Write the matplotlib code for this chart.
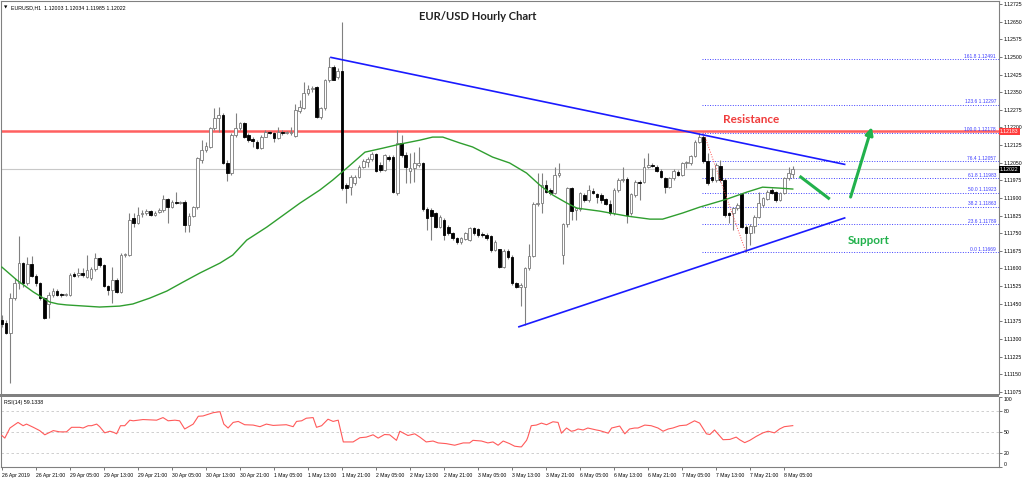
import numpy as np
import matplotlib.pyplot as plt
from matplotlib.patches import Rectangle

plt.rcParams['font.family'] = ['Liberation Sans', 'DejaVu Sans']

# EURUSD H1 candles, 26 Apr 2019 13:00 -> 8 May 2019
opens = [1.11381, 1.11370, 1.11327, 1.11476, 1.11540, 1.11624, 1.11537, 1.11621, 1.11568, 1.11537,
         1.11473, 1.11449, 1.11487, 1.11506, 1.11490, 1.11489, 1.11487, 1.11577, 1.11571, 1.11580,
         1.11565, 1.11558, 1.11597, 1.11645, 1.11614, 1.11526, 1.11509, 1.11551, 1.11502, 1.11657,
         1.11657, 1.11813, 1.11792, 1.11831, 1.11834, 1.11844, 1.11827, 1.11840, 1.11848, 1.11894,
         1.11860, 1.11884, 1.11880, 1.11884, 1.11783, 1.11823, 1.11860, 1.12062, 1.12104, 1.12118,
         1.12196, 1.12239, 1.12253, 1.12050, 1.12005, 1.12168, 1.12196, 1.12218, 1.12168, 1.12149,
         1.12140, 1.12114, 1.12161, 1.12179, 1.12175, 1.12154, 1.12182, 1.12178, 1.12175, 1.12164,
         1.12272, 1.12282, 1.12345, 1.12362, 1.12370, 1.12243, 1.12282, 1.12401, 1.12458, 1.12415,
         1.12441, 1.11955, 1.11948, 1.11962, 1.11990, 1.12033, 1.12054, 1.12064, 1.12087, 1.12040,
         1.12019, 1.12076, 1.12076, 1.11920, 1.12132, 1.12083, 1.12016, 1.12026, 1.12040, 1.12047,
         1.11851, 1.11848, 1.11834, 1.11778, 1.11806, 1.11778, 1.11749, 1.11728, 1.11714, 1.11725,
         1.11723, 1.11774, 1.11766, 1.11746, 1.11742, 1.11738, 1.11678, 1.11681, 1.11608, 1.11675,
         1.11650, 1.11537, 1.11523, 1.11523, 1.11601, 1.11653, 1.11874, 1.11877, 1.11955, 1.11934,
         1.11923, 1.11998, 1.11657, 1.11789, 1.11941, 1.11848, 1.11851, 1.11912, 1.11891, 1.11931,
         1.11917, 1.11912, 1.11894, 1.11874, 1.11834, 1.11934, 1.11976, 1.11980, 1.11834, 1.11912,
         1.11969, 1.11969, 1.12033, 1.12040, 1.12033, 1.12016, 1.11983, 1.11945, 1.11983, 1.12012,
         1.11998, 1.12047, 1.12047, 1.12079, 1.12140, 1.12161, 1.12056, 1.11990, 1.11976, 1.12036,
         1.11976, 1.11834, 1.11834, 1.11856, 1.11917, 1.11778, 1.11749, 1.11781, 1.11820, 1.11870,
         1.11895, 1.11934, 1.11927, 1.11891, 1.11923, 1.11983, 1.12003]
highs = [1.11402, 1.11381, 1.11495, 1.11558, 1.11738, 1.11628, 1.11650, 1.11653, 1.11577, 1.11544,
         1.11480, 1.11502, 1.11516, 1.11512, 1.11495, 1.11497, 1.11580, 1.11587, 1.11601, 1.11601,
         1.11657, 1.11608, 1.11667, 1.11650, 1.11621, 1.11530, 1.11608, 1.11558, 1.11664, 1.11667,
         1.11834, 1.11834, 1.11863, 1.11848, 1.11851, 1.11848, 1.11846, 1.11856, 1.11912, 1.11898,
         1.11891, 1.11927, 1.11888, 1.11891, 1.11834, 1.11865, 1.12076, 1.12147, 1.12140, 1.12204,
         1.12282, 1.12289, 1.12260, 1.12062, 1.12175, 1.12260, 1.12225, 1.12225, 1.12175, 1.12158,
         1.12147, 1.12168, 1.12189, 1.12186, 1.12182, 1.12201, 1.12189, 1.12186, 1.12204, 1.12300,
         1.12317, 1.12394, 1.12380, 1.12376, 1.12376, 1.12289, 1.12408, 1.12498, 1.12465, 1.12451,
         1.12650, 1.11965, 1.11998, 1.11998, 1.12040, 1.12064, 1.12076, 1.12097, 1.12093, 1.12054,
         1.12087, 1.12083, 1.12083, 1.12189, 1.12168, 1.12097, 1.12090, 1.12097, 1.12118, 1.12054,
         1.11863, 1.11856, 1.11841, 1.11827, 1.11813, 1.11785, 1.11756, 1.11735, 1.11735, 1.11756,
         1.11778, 1.11778, 1.11771, 1.11756, 1.11749, 1.11742, 1.11721, 1.11685, 1.11681, 1.11681,
         1.11657, 1.11544, 1.11537, 1.11608, 1.11706, 1.11884, 1.12005, 1.12005, 1.11976, 1.11941,
         1.12033, 1.12047, 1.11795, 1.11948, 1.11945, 1.11863, 1.11927, 1.11920, 1.11955, 1.11941,
         1.11923, 1.11920, 1.11898, 1.11891, 1.11941, 1.11983, 1.12033, 1.11988, 1.11923, 1.11976,
         1.11976, 1.12069, 1.12090, 1.12047, 1.12040, 1.12022, 1.11990, 1.11990, 1.12022, 1.12019,
         1.12054, 1.12057, 1.12083, 1.12147, 1.12178, 1.12168, 1.12090, 1.12026, 1.12047, 1.12062,
         1.11983, 1.11841, 1.11863, 1.11877, 1.11923, 1.11785, 1.11789, 1.11827, 1.11927, 1.11905,
         1.11934, 1.11941, 1.11931, 1.11927, 1.11990, 1.12033, 1.12034]
lows = [1.11353, 1.11321, 1.11114, 1.11466, 1.11512, 1.11523, 1.11530, 1.11563, 1.11526, 1.11466,
        1.11384, 1.11388, 1.11480, 1.11483, 1.11480, 1.11483, 1.11483, 1.11563, 1.11565, 1.11563,
        1.11558, 1.11551, 1.11591, 1.11608, 1.11520, 1.11487, 1.11452, 1.11495, 1.11495, 1.11650,
        1.11653, 1.11778, 1.11789, 1.11820, 1.11827, 1.11823, 1.11823, 1.11834, 1.11841, 1.11792,
        1.11856, 1.11874, 1.11874, 1.11756, 1.11756, 1.11817, 1.11851, 1.12047, 1.12097, 1.12111,
        1.12189, 1.12182, 1.12045, 1.11973, 1.11998, 1.12161, 1.12189, 1.12154, 1.12140, 1.12118,
        1.12107, 1.12110, 1.12158, 1.12172, 1.12140, 1.12149, 1.12169, 1.12172, 1.12168, 1.12158,
        1.12260, 1.12277, 1.12338, 1.12352, 1.12239, 1.12235, 1.12274, 1.12394, 1.12401, 1.12408,
        1.11934, 1.11877, 1.11912, 1.11954, 1.11983, 1.12026, 1.12033, 1.12059, 1.12012, 1.12012,
        1.12016, 1.12059, 1.11923, 1.11912, 1.12073, 1.11962, 1.11962, 1.11969, 1.12033, 1.11846,
        1.11764, 1.11721, 1.11771, 1.11771, 1.11721, 1.11742, 1.11721, 1.11706, 1.11706, 1.11721,
        1.11718, 1.11742, 1.11735, 1.11735, 1.11723, 1.11671, 1.11675, 1.11601, 1.11601, 1.11639,
        1.11530, 1.11516, 1.11440, 1.11360, 1.11594, 1.11647, 1.11865, 1.11834, 1.11920, 1.11912,
        1.11917, 1.11990, 1.11621, 1.11778, 1.11806, 1.11806, 1.11846, 1.11884, 1.11884, 1.11917,
        1.11877, 1.11880, 1.11870, 1.11827, 1.11827, 1.11927, 1.11969, 1.11792, 1.11827, 1.11905,
        1.11891, 1.11962, 1.12026, 1.12033, 1.12012, 1.11983, 1.11920, 1.11941, 1.11976, 1.11993,
        1.11993, 1.12026, 1.12040, 1.12073, 1.12132, 1.12050, 1.11955, 1.11969, 1.11969, 1.11969,
        1.11820, 1.11792, 1.11764, 1.11848, 1.11771, 1.11669, 1.11699, 1.11749, 1.11813, 1.11863,
        1.11891, 1.11917, 1.11884, 1.11888, 1.11917, 1.11976, 1.11985]
closes = [1.11364, 1.11327, 1.11476, 1.11540, 1.11624, 1.11537, 1.11621, 1.11568, 1.11537, 1.11473,
          1.11388, 1.11487, 1.11506, 1.11489, 1.11486, 1.11492, 1.11573, 1.11568, 1.11582, 1.11571,
          1.11594, 1.11597, 1.11645, 1.11614, 1.11526, 1.11509, 1.11551, 1.11502, 1.11657, 1.11660,
          1.11806, 1.11792, 1.11827, 1.11837, 1.11843, 1.11827, 1.11837, 1.11848, 1.11894, 1.11860,
          1.11884, 1.11880, 1.11884, 1.11783, 1.11823, 1.11860, 1.12069, 1.12104, 1.12121, 1.12196,
          1.12239, 1.12253, 1.12050, 1.12005, 1.12168, 1.12196, 1.12218, 1.12161, 1.12147, 1.12144,
          1.12114, 1.12161, 1.12182, 1.12178, 1.12154, 1.12182, 1.12175, 1.12179, 1.12182, 1.12274,
          1.12286, 1.12345, 1.12362, 1.12366, 1.12243, 1.12282, 1.12401, 1.12458, 1.12404, 1.12441,
          1.11941, 1.11941, 1.11990, 1.11988, 1.12033, 1.12057, 1.12064, 1.12087, 1.12016, 1.12019,
          1.12081, 1.12064, 1.11927, 1.12132, 1.12083, 1.12033, 1.12026, 1.12047, 1.12047, 1.11851,
          1.11813, 1.11823, 1.11778, 1.11820, 1.11742, 1.11749, 1.11728, 1.11714, 1.11728, 1.11749,
          1.11771, 1.11749, 1.11742, 1.11742, 1.11728, 1.11678, 1.11714, 1.11608, 1.11675, 1.11647,
          1.11537, 1.11523, 1.11530, 1.11601, 1.11653, 1.11874, 1.11880, 1.11955, 1.11927, 1.11920,
          1.11998, 1.12005, 1.11789, 1.11941, 1.11846, 1.11856, 1.11920, 1.11891, 1.11934, 1.11923,
          1.11903, 1.11891, 1.11874, 1.11834, 1.11934, 1.11976, 1.11980, 1.11827, 1.11917, 1.11969,
          1.11965, 1.12033, 1.12040, 1.12037, 1.12016, 1.11988, 1.11948, 1.11983, 1.12016, 1.11998,
          1.12047, 1.12052, 1.12079, 1.12140, 1.12161, 1.12056, 1.11962, 1.11976, 1.12040, 1.11976,
          1.11827, 1.11827, 1.11856, 1.11870, 1.11778, 1.11749, 1.11781, 1.11820, 1.11877, 1.11898,
          1.11927, 1.11923, 1.11891, 1.11923, 1.11983, 1.12005, 1.12022]

# moving average (green)
ma_bars = [0, 3.5, 7.4, 11.3, 13.2, 15.2, 23.0, 27.7, 30.8, 34.8, 38.8, 42.6, 46.6, 51.3, 54.3, 57.6,
           62.3, 70.1, 74.8, 77.8, 81.1, 85.4, 89.6, 93.6, 98.3, 101.3, 103.7, 107.7, 110.7, 115.4,
           119.4, 123.4, 126.5, 129.6, 132.9, 135.2, 140.6, 147.0, 152.4, 155.4, 160.1, 164.1, 170.5,
           175.2, 178.9, 182.9, 186.0]
ma_vals = [1.11606, 1.11551, 1.11500, 1.11457, 1.11449, 1.11445, 1.11436, 1.11440, 1.11449, 1.11474,
           1.11504, 1.11542, 1.11581, 1.11623, 1.11657, 1.11721, 1.11776, 1.11878, 1.11934, 1.11976,
           1.12027, 1.12095, 1.12112, 1.12129, 1.12146, 1.12159, 1.12159, 1.12134, 1.12117, 1.12074,
           1.12049, 1.12006, 1.11955, 1.11912, 1.11878, 1.11857, 1.11844, 1.11823, 1.11810, 1.11810,
           1.11836, 1.11861, 1.11895, 1.11925, 1.11946, 1.11942, 1.11938]

# RSI(14)
rsi_bars = [0, 0.7, 1.9, 3.8, 5.0, 5.8, 7.4, 8.9, 10.1, 12.1, 13.6, 15.2, 16.4, 18.3, 19.1, 20.3, 21.1,
            22.3, 23.0, 24.2, 25.4, 26.2, 27.0, 27.9, 28.9, 30.1, 30.9, 33.2, 36.4, 37.9, 39.1, 40.7,
            41.8, 43.0, 45.0, 46.2, 47.3, 48.5, 49.7, 51.3, 52.2, 53.2, 54.4, 55.6, 57.1, 59.1, 60.7,
            62.2, 63.8, 65.4, 66.9, 68.5, 69.3, 70.5, 71.6, 73.2, 74.0, 75.2, 76.7, 77.9, 79.1, 80.3,
            82.6, 84.2, 85.7, 87.3, 88.5, 90.0, 91.2, 92.8, 93.6, 95.5, 97.1, 98.3, 99.8, 101.4, 102.6,
            104.5, 106.5, 108.5, 110.0, 110.8, 112.8, 114.3, 115.5, 116.7, 117.9, 119.4, 120.6, 121.8,
            122.2, 123.4, 123.7, 124.5, 125.7, 126.9, 128.1, 129.6, 130.8, 131.6, 132.8, 133.9, 134.7,
            135.5, 136.7, 137.8, 139.8, 140.6, 142.6, 143.4, 145.3, 146.5, 147.6, 148.8, 149.6, 151.2,
            152.7, 154.3, 155.5, 156.7, 157.8, 159.4, 161.0, 162.9, 164.1, 165.7, 166.5, 167.6, 169.6,
            171.2, 172.7, 173.5, 174.7, 175.9, 177.4, 179.0, 180.2, 181.7, 182.9, 184.0, 186.0]
rsi_vals = [45.0, 41.3, 55.7, 63.7, 59.0, 61.3, 56.7, 52.0, 46.0, 52.0, 50.2, 50.2, 56.7, 56.7, 55.7,
            59.0, 59.0, 61.3, 57.6, 48.8, 51.1, 49.7, 47.4, 59.0, 59.0, 66.9, 66.0, 67.8, 66.9, 70.6,
            66.0, 66.9, 66.0, 54.3, 61.3, 72.5, 72.9, 75.3, 77.6, 79.0, 61.3, 55.7, 63.7, 65.1, 60.4,
            59.9, 57.6, 61.3, 59.4, 59.9, 60.4, 57.6, 65.1, 66.0, 69.7, 70.6, 56.7, 59.0, 68.3, 65.1,
            66.9, 35.8, 35.8, 41.8, 42.7, 46.0, 41.3, 46.4, 46.0, 38.1, 51.1, 45.0, 47.4, 42.7, 35.8,
            37.1, 34.4, 33.4, 31.1, 34.4, 34.4, 38.1, 37.1, 34.4, 35.8, 31.1, 37.1, 33.4, 29.7, 28.8,
            28.8, 38.1, 42.7, 59.0, 59.9, 62.7, 60.4, 64.6, 63.7, 48.3, 55.7, 51.1, 52.0, 54.3, 52.9,
            55.7, 52.9, 52.0, 48.3, 55.7, 58.5, 47.4, 54.3, 55.7, 55.7, 59.9, 59.0, 55.7, 51.1, 54.3,
            55.7, 59.0, 59.9, 66.0, 62.7, 47.4, 46.4, 52.9, 39.0, 39.4, 42.7, 39.0, 34.8, 38.1, 43.7,
            48.8, 51.1, 48.8, 54.3, 57.6, 59.1]

# fibonacci retracement from swing high (bar 165) to swing low (bar 175)
fib_anchor_bars = [165, 175]
fib_anchor_prices = [1.12178, 1.11669]
fib_pct = ['0.0', '23.6', '38.2', '50.0', '61.8', '76.4', '100.0', '123.6', '161.8']
fib_prices = [1.11669, 1.11789, 1.11863, 1.11923, 1.11983, 1.12057, 1.12178, 1.12297, 1.12491]

# trend lines
upper_bars = [77.4, 198.2]
upper_prices = [1.12498, 1.12043]
lower_bars = [121.6, 198.2]
lower_prices = [1.11352, 1.11815]

resistance = 1.12183
last_price = 1.12022

# green arrows and labels
arrow_down_bars = [187.6, 194.7]
arrow_down_prices = [1.11993, 1.11895]
arrow_up_bars = [199.6, 204.6]
arrow_up_prices = [1.11904, 1.12202]
support_pos = (203.9, 1.11717)
resist_pos = (176.3, 1.12232)

price_ticks = [1.12725, 1.12650, 1.12575, 1.12500, 1.12425, 1.12350, 1.12275, 1.12200, 1.12125,
               1.12050, 1.11975, 1.11900, 1.11825, 1.11750, 1.11675, 1.11600, 1.11525, 1.11450,
               1.11375, 1.11300, 1.11225, 1.11150, 1.11075]
time_ticks = [0, 8, 16, 24, 32, 40, 48, 56, 64, 72, 80, 88, 96, 104, 112, 120, 128, 136, 144, 152,
              160, 168, 176, 184]
time_labels = ['26 Apr 2019', '26 Apr 21:00', '29 Apr 05:00', '29 Apr 13:00', '29 Apr 21:00',
               '30 Apr 05:00', '30 Apr 13:00', '30 Apr 21:00', '1 May 05:00', '1 May 13:00',
               '1 May 21:00', '2 May 05:00', '2 May 13:00', '2 May 21:00', '3 May 05:00',
               '3 May 13:00', '3 May 21:00', '6 May 05:00', '6 May 13:00', '6 May 21:00',
               '7 May 05:00', '7 May 13:00', '7 May 21:00', '8 May 05:00']
rsi_ticks = [0, 20, 50, 80, 100]

o = np.array(opens)
h = np.array(highs)
l = np.array(lows)
c = np.array(closes)
x = np.arange(len(o))
up = c >= o

W, H = 1024.0, 479.0
small = 3.7  # axis label font size


def box(x0, y0, x1, y1):
    # pixel box -> figure fraction
    return [x0 / W, 1 - y1 / H, (x1 - x0) / W, (y1 - y0) / H]


fig = plt.figure(figsize=(10.24, 4.79), dpi=100)
ax = fig.add_axes(box(1, 1, 999, 394))
axr = fig.add_axes(box(1, 397, 999, 467), sharex=ax)

ax.set_xlim(-0.2, 234.5)
ax.set_ylim(1.11066, 1.12738)

# candles
ax.vlines(x, l, h, colors='#808080', lw=0.8, zorder=3)
body = np.maximum(np.abs(c - o), 0.00002)
ax.bar(x[up], body[up], bottom=o[up], width=0.62, facecolor='white',
       edgecolor='#7a7a7a', linewidth=0.6, zorder=4)
ax.bar(x[~up], body[~up], bottom=c[~up], width=0.62, facecolor='black',
       edgecolor='black', linewidth=0.6, zorder=4)

ax.plot(ma_bars, ma_vals, color='#2f9e2f', lw=1.0, zorder=5)

ax.axhline(last_price, color='#c8c8c8', lw=0.8, zorder=1)
ax.axhline(resistance, color='#ff6060', lw=1.8, zorder=2)

# fibonacci levels
xmax = ax.get_xlim()[1]
ax.hlines(fib_prices, fib_anchor_bars[0] - 0.4, xmax, colors='#4040ff', lw=0.7,
          linestyles=(0, (1, 1.6)), zorder=2)
for pct, p in zip(fib_pct, fib_prices):
    ax.text(0.997, p + 0.00002, f'{pct} {p:.5f}', transform=ax.get_yaxis_transform(),
            ha='right', va='bottom', fontsize=3.5, color='#3c3cff', zorder=6)
ax.plot(fib_anchor_bars, fib_anchor_prices, color='#ff5050', lw=0.7, ls=(0, (1, 1.6)), zorder=6)

# trend lines
ax.plot(upper_bars, upper_prices, color='#1a1aff', lw=1.2, zorder=6)
ax.plot(lower_bars, lower_prices, color='#1a1aff', lw=1.2, zorder=6)

# annotations
green = '#22b14c'
ax.plot(arrow_down_bars, arrow_down_prices, color=green, lw=2.2, solid_capstyle='butt', zorder=7)
ax.annotate('', xy=(arrow_up_bars[1], arrow_up_prices[1]),
            xytext=(arrow_up_bars[0], arrow_up_prices[0]),
            arrowprops=dict(arrowstyle='-|>', lw=2.2, color=green, mutation_scale=11,
                            shrinkA=0, shrinkB=0), zorder=7)
ax.text(support_pos[0], support_pos[1], 'Support', color=green, fontsize=8.5,
        fontweight='bold', family='Lato', ha='center', va='center', zorder=7)
ax.text(resist_pos[0], resist_pos[1], 'Resistance', color='#f03c3c', fontsize=8.5,
        fontweight='bold', family='Lato', ha='center', va='center', zorder=7)
fig.text(478 / W, 1 - 16 / H, 'EUR/USD Hourly Chart', ha='center', va='center',
         fontsize=8.1, fontweight='bold', family='Lato', color='#222222')

ax.text(0.003, 0.988, '\u25bc', transform=ax.transAxes, fontsize=3.2, va='top',
        family='DejaVu Sans')
ax.text(0.010, 0.990, 'EURUSD,H1  1.12003 1.12034 1.11985 1.12022', transform=ax.transAxes,
        fontsize=3.8, va='top')

# price axis on the right
ax.yaxis.tick_right()
ax.set_yticks(price_ticks)
ax.set_yticklabels([f'{p:.5f}' for p in price_ticks])
ax.tick_params(axis='y', labelsize=small, length=2.5, width=0.6, color='#606060', pad=1.2)
ax.tick_params(axis='x', bottom=False, labelbottom=False)
for s in ax.spines.values():
    s.set_color('#808080')
    s.set_linewidth(0.8)
ax.spines['bottom'].set_visible(False)

ytr = ax.get_yaxis_transform()
ax.text(1.001, resistance, f'{resistance:.5f}', transform=ytr, ha='left', va='center',
        fontsize=small, color='white', clip_on=False, zorder=10,
        bbox=dict(boxstyle='square,pad=0.25', fc='#ff3c3c', ec='none'))
ax.text(1.001, last_price, f'{last_price:.5f}', transform=ytr, ha='left', va='center',
        fontsize=small, color='white', clip_on=False, zorder=10,
        bbox=dict(boxstyle='square,pad=0.25', fc='black', ec='none'))

# panel separator
fig.add_artist(Rectangle((0, 1 - 397 / H), 999 / W, 3 / H, transform=fig.transFigure,
                         facecolor='#808080', edgecolor='none'))

# RSI panel
axr.set_ylim(0, 100)
for lev in [20, 50, 80]:
    axr.axhline(lev, color='#c8c8c8', lw=0.6, ls=(0, (3, 3)), zorder=1)
axr.plot(rsi_bars, rsi_vals, color='#ff5a5a', lw=0.8, zorder=3)
axr.text(0.003, 0.96, 'RSI(14) 59.1338', transform=axr.transAxes, fontsize=3.8, va='top')

axr.yaxis.tick_right()
axr.set_yticks(rsi_ticks)
axr.set_yticklabels([str(t) for t in rsi_ticks])
axr.tick_params(axis='y', labelsize=small, length=2.5, width=0.6, color='#606060', pad=1.2)
ylabels = axr.get_yticklabels()
ylabels[0].set_va('bottom')
ylabels[-1].set_va('top')

axr.set_xticks(time_ticks)
axr.set_xticklabels(time_labels, ha='left')
axr.tick_params(axis='x', labelsize=small, length=2.5, width=0.6, color='#606060', pad=1.5)
for s in axr.spines.values():
    s.set_color('#808080')
    s.set_linewidth(0.8)
axr.spines['top'].set_visible(False)

fig.savefig('out.png', dpi=100)
